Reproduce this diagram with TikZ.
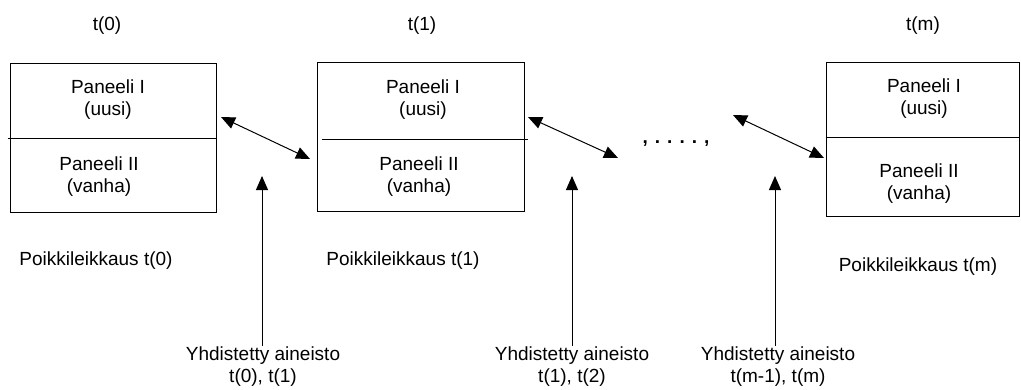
\documentclass[tikz,border=0pt]{standalone}
\usepackage{fontspec}
\setmainfont{Liberation Sans}
\usetikzlibrary{arrows.meta,calc}

\tikzset{
  ftri/.tip={Triangle[length=14pt,width=12pt]},
  panel/.style={draw,line width=1pt,inner sep=0pt,minimum height=149pt},
  lbl/.style={align=center,inner sep=1pt,font=\fontsize{19}{22}\selectfont},
  twoway/.style={ftri-ftri,line width=1pt},
  oneway/.style={-ftri,line width=1pt}
}

\begin{document}
\begin{tikzpicture}[x=1pt,y=-1pt]
        \useasboundingbox (0,0) rectangle (1021,389);
        % time labels
        \node[lbl] (t0) at (107,26) {t(0)};
        \node[lbl] (t1) at (422,26) {t(1)};
        \node[lbl] (tm) at (923,26) {t(m)};
        % panels
        \node[panel,minimum width=206pt] (p0) at (113,138) {};
        \node[panel,minimum width=207pt] (p1) at (420.5,137) {};
        \node[panel,minimum width=193pt,minimum height=154pt] (pm) at (922.5,139) {};
        \draw[line width=1pt] ([xshift=-2pt]p0.west) -- (p0.east);
        \draw[line width=1pt] ($(p1.west)+(5,2)$) -- ($(p1.east)+(3,2)$);
        \draw[line width=1pt] ($(pm.west)+(0,-2)$) -- ($(pm.east)+(0,-2)$);
        \node[lbl] (p0a) at (108,100) {Paneeli I\\(uusi)};
        \node[lbl] (p0b) at (99,177) {Paneeli II\\(vanha)};
        \node[lbl] (p1a) at (423,100) {Paneeli I\\(uusi)};
        \node[lbl] (p1b) at (419,177) {Paneeli II\\(vanha)};
        \node[lbl] (pma) at (924,99) {Paneeli I\\(uusi)};
        \node[lbl] (pmb) at (919,184) {Paneeli II\\(vanha)};
        % cross sections
        \node[lbl] (c0) at (96,261) {Poikkileikkaus t(0)};
        \node[lbl] (c1) at (403,261) {Poikkileikkaus t(1)};
        \node[lbl] (cm) at (918,267) {Poikkileikkaus t(m)};
        \node[lbl,font=\fontsize{19}{22}\selectfont\bfseries] (dots) at (676,144)
          {,\hspace{7pt}.\hspace{7pt}.\hspace{7pt}.\hspace{7pt}.\hspace{7pt},};
        % links between panels
        \coordinate (l0a) at (221,117);
        \coordinate (l0b) at (310,159);
        \coordinate (l1a) at (528,117);
        \coordinate (l1b) at (618,158);
        \coordinate (l2a) at (733,115);
        \coordinate (l2b) at (824,158);
        \draw[twoway] (l0a) -- (l0b);
        \draw[twoway] (l1a) -- (l1b);
        \draw[twoway] (l2a) -- (l2b);
        % combined data
        \node[lbl] (y0) at (263,367) {Yhdistetty aineisto\\t(0), t(1)};
        \node[lbl] (y1) at (572,367) {Yhdistetty aineisto\\t(1), t(2)};
        \node[lbl] (y2) at (778,367) {Yhdistetty aineisto\\t(m-1), t(m)};
        \coordinate (v0) at (262,176);
        \coordinate (v1) at (572,176);
        \coordinate (v2) at (775,176);
        \draw[oneway] (v0 |- y0.north) -- (v0);
        \draw[oneway] (v1 |- y1.north) -- (v1);
        \draw[oneway] (v2 |- y2.north) -- (v2);
      \end{tikzpicture}
\end{document}
